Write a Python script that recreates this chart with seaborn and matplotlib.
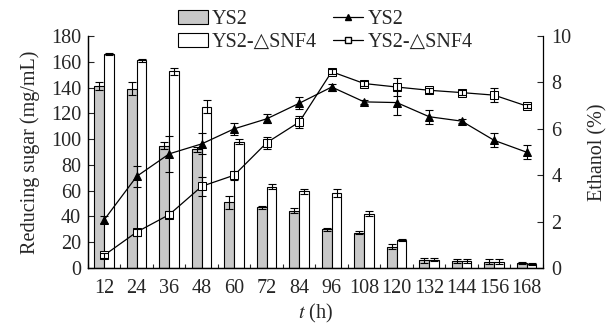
import numpy as np
import pandas as pd
import matplotlib
matplotlib.use("Agg")
import matplotlib.pyplot as plt
import seaborn as sns
from matplotlib.patches import Patch
from matplotlib.lines import Line2D

hours = [12, 24, 36, 48, 60, 72, 84, 96, 108, 120, 132, 144, 156, 168]

# reducing sugar (mg/mL)
sugar_ys2 = [141, 139, 95, 92, 51, 47, 44.6, 30, 27.5, 16.6, 6, 5.5, 5, 4]
sugar_ys2_err = [3, 5, 3, 2, 5, 1, 2, 1, 1, 2, 2, 1.5, 2, 1]
sugar_snf4 = [166, 161, 152.5, 125, 98, 63, 59.5, 58, 42, 21.8, 6.5, 5.5, 5, 3]
sugar_snf4_err = [1, 1, 3, 5, 2, 2, 2, 3, 2, 1, 1, 1.5, 2, 0.5]

# ethanol (%)
eth_ys2 = [2.08, 3.95, 4.92, 5.35, 6.0, 6.43, 7.1, 7.8, 7.16, 7.13, 6.52, 6.33, 5.5, 4.99]
eth_ys2_err = [0.15, 0.45, 0.77, 0.45, 0.25, 0.2, 0.25, 0.15, 0.1, 0.55, 0.3, 0.1, 0.3, 0.3]
eth_snf4 = [0.55, 1.55, 2.3, 3.52, 4.0, 5.4, 6.29, 8.46, 7.95, 7.8, 7.66, 7.56, 7.45, 6.98]
eth_snf4_err = [0.1, 0.15, 0.15, 0.4, 0.2, 0.25, 0.25, 0.1, 0.1, 0.4, 0.1, 0.1, 0.3, 0.1]

strains = ["YS2", "YS2-\u25b3SNF4"]

sns.set_style("ticks")
plt.rcParams["font.family"] = ["Liberation Serif", "DejaVu Serif"]
plt.rcParams["mathtext.fontset"] = "stix"
plt.rcParams["font.size"] = 14.5

df = pd.DataFrame({
    "t": [str(h) for h in hours] * 2,
    "strain": [strains[0]] * len(hours) + [strains[1]] * len(hours),
    "sugar": sugar_ys2 + sugar_snf4,
})

fig = plt.figure(figsize=(6.14, 3.32), dpi=100)
ax = fig.add_axes([0.1433, 0.1928, 0.741, 0.6988])

sns.barplot(data=df, x="t", y="sugar", hue="strain", palette=["#c8c8c8", "white"],
            errorbar=None, width=0.6, edgecolor="black", linewidth=0.8,
            legend=False, ax=ax, zorder=2)

pos = np.arange(len(hours))
ax.errorbar(pos - 0.15, sugar_ys2, yerr=sugar_ys2_err, fmt="none", ecolor="black",
            elinewidth=0.8, capsize=3, capthick=0.8, zorder=3)
ax.errorbar(pos + 0.15, sugar_snf4, yerr=sugar_snf4_err, fmt="none", ecolor="black",
            elinewidth=0.8, capsize=3, capthick=0.8, zorder=3)

ax.set_ylim(0, 180)
ax.set_yticks(range(0, 181, 20))
ax.set_xlim(-0.5, len(hours) - 0.5)
ax.set_xlabel("$t$ (h)", labelpad=3)
ax.set_ylabel("Reducing sugar (mg/mL)", labelpad=8)
ax.tick_params(axis="y", direction="in", length=4, width=0.8, pad=5)
ax.tick_params(axis="x", which="major", length=0, pad=8)
ax.set_xticks(np.arange(-0.5, len(hours), 1), minor=True)
ax.tick_params(axis="x", which="minor", direction="in", length=3, width=0.8)

ax2 = ax.twinx()
sns.lineplot(x=pos, y=eth_ys2, color="black", marker="^", markersize=6,
             markerfacecolor="black", markeredgecolor="black", linewidth=0.9, ax=ax2)
sns.lineplot(x=pos, y=eth_snf4, color="black", marker="s", markersize=6,
             markerfacecolor="white", markeredgecolor="black", linewidth=0.9, ax=ax2)
ax2.errorbar(pos, eth_ys2, yerr=eth_ys2_err, fmt="none", ecolor="black",
             elinewidth=0.8, capsize=3, capthick=0.8)
ax2.errorbar(pos, eth_snf4, yerr=eth_snf4_err, fmt="none", ecolor="black",
             elinewidth=0.8, capsize=3, capthick=0.8)
ax2.set_ylim(0, 10)
ax2.set_yticks(range(0, 11, 2))
ax2.set_ylabel("Ethanol (%)", labelpad=12)
ax2.tick_params(axis="y", direction="in", length=4, width=0.8, pad=6)

for a in (ax, ax2):
    a.spines["top"].set_visible(False)
    for s in ("left", "right", "bottom"):
        a.spines[s].set_linewidth(0.9)
        a.spines[s].set_color("black")
ax.spines["right"].set_visible(False)

handles = [
    Patch(facecolor="#c8c8c8", edgecolor="black", linewidth=0.8),
    Patch(facecolor="white", edgecolor="black", linewidth=0.8),
    Line2D([], [], color="black", marker="^", markersize=5, linewidth=0.9),
    Line2D([], [], color="black", marker="s", markersize=4.5, markerfacecolor="white", linewidth=0.9),
]
labels = [strains[0], strains[1], strains[0], strains[1]]
fig.legend(handles, labels, ncol=2, frameon=False, loc="upper left",
           bbox_to_anchor=(0.26, 1.025), handlelength=1.5, handleheight=0.7,
           handletextpad=0.2, columnspacing=0.8, labelspacing=0.2)

fig.savefig("out.png", dpi=100)
